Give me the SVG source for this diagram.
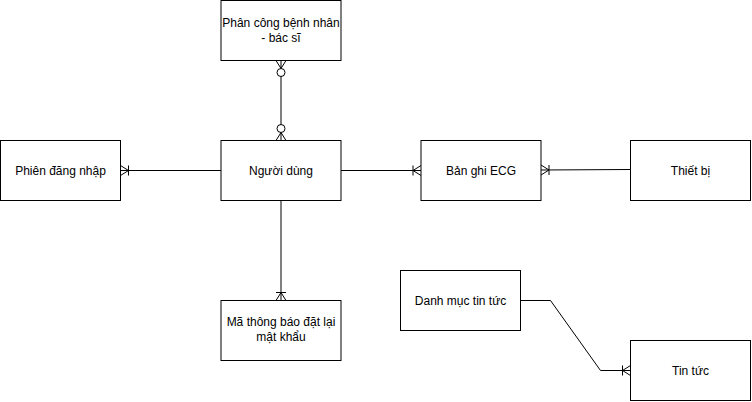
<svg xmlns="http://www.w3.org/2000/svg" width="752" height="402" viewBox="0 0 752 402">
<style>
.box{fill:#fff;stroke:#000;stroke-width:1}
.t{font-family:"Liberation Sans",Arial,sans-serif;font-size:12px;fill:#000;text-anchor:middle}
.c{fill:none;stroke:#000;stroke-width:1}
.ci{fill:#fff;stroke:#000;stroke-width:1}
</style>
<rect width="752" height="402" fill="#fff"/>
<g id="connectors">
  <!-- Phan cong - Nguoi dung -->
  <path class="c" d="M281 60.5V140.5"/>
  <path class="c" d="M276 60.5L281 68.5L286 60.5"/>
  <circle class="ci" cx="281" cy="72.5" r="4"/>
  <path class="c" d="M276 140.5L281 132.5L286 140.5"/>
  <circle class="ci" cx="281" cy="128.5" r="4"/>
  <!-- Nguoi dung - Phien -->
  <path class="c" d="M221 170.5H120.5"/>
  <path class="c" d="M120.5 165.5L128.5 170.5L120.5 175.5M128.5 165.5V175.5"/>
  <!-- Nguoi dung - Ban ghi -->
  <path class="c" d="M341 170.5H421"/>
  <path class="c" d="M421 165.5L413 170.5L421 175.5M413 165.5V175.5"/>
  <!-- Thiet bi - Ban ghi -->
  <path class="c" d="M630 169.5L541 170"/>
  <path class="c" d="M541 165L549 170L541 175M549 165V175"/>
  <!-- Nguoi dung - Ma -->
  <path class="c" d="M281 200.5V300.5"/>
  <path class="c" d="M276 300.5L281 292.5L286 300.5M276 292.5H286"/>
  <!-- Danh muc - Tin tuc -->
  <path class="c" d="M520.5 300.5H550.5L600.5 370.5H630.5"/>
  <path class="c" d="M630.5 365.5L622.5 370.5L630.5 375.5M622.5 365.5V375.5"/>
</g>
<g id="phancong"><rect class="box" x="221" y="0.5" width="120" height="60"/><text class="t" x="281" y="27">Phân công bệnh nhân</text><text class="t" x="281" y="42">- bác sĩ</text></g>
<g id="phien"><rect class="box" x="0.5" y="140.5" width="120" height="60"/><text class="t" x="60.5" y="174.5">Phiên đăng nhập</text></g>
<g id="nguoidung"><rect class="box" x="221" y="140.5" width="120" height="60"/><text class="t" x="281" y="174.5">Người dùng</text></g>
<g id="banghi"><rect class="box" x="421" y="140.5" width="120" height="60"/><text class="t" x="481" y="174.5">Bản ghi ECG</text></g>
<g id="thietbi"><rect class="box" x="630.5" y="140.5" width="120" height="60"/><text class="t" x="690.5" y="174.5">Thiết bị</text></g>
<g id="ma"><rect class="box" x="221" y="300.5" width="120" height="60"/><text class="t" x="281" y="326">Mã thông báo đặt lại</text><text class="t" x="281" y="341">mật khẩu</text></g>
<g id="danhmuc"><rect class="box" x="400.5" y="270.5" width="120" height="60"/><text class="t" x="460.5" y="304.5">Danh mục tin tức</text></g>
<g id="tintuc"><rect class="box" x="630.5" y="340.5" width="120" height="60"/><text class="t" x="690.5" y="374.5">Tin tức</text></g>
</svg>
